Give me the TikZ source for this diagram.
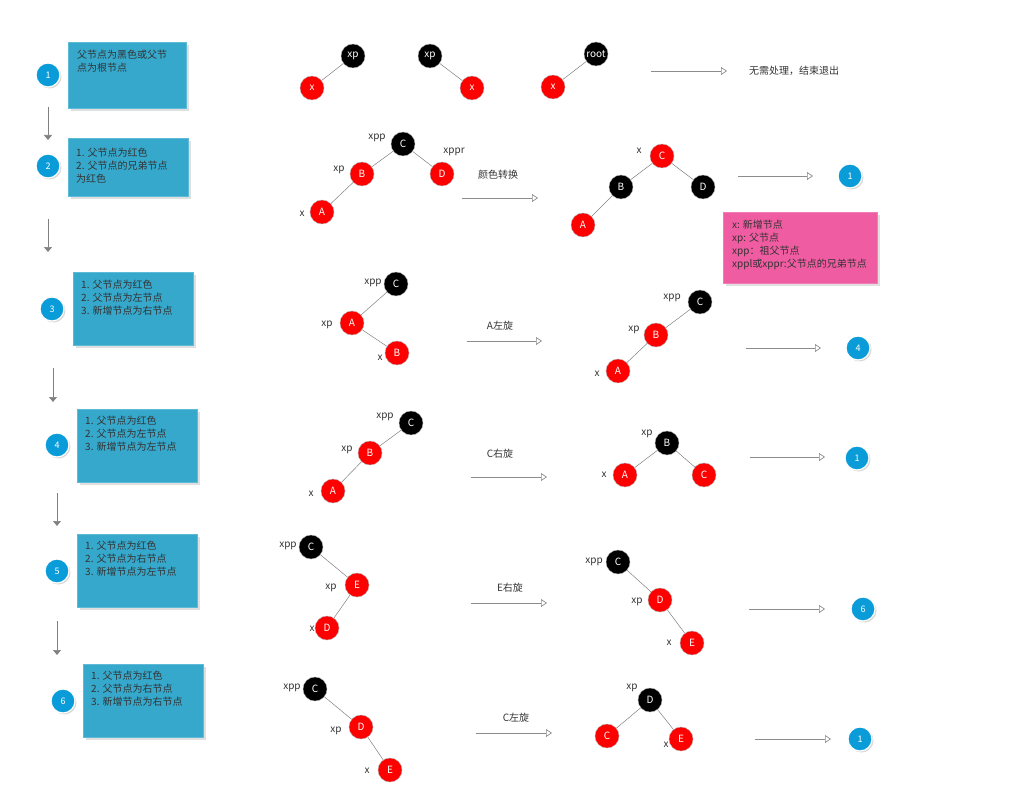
\documentclass[tikz,border=0pt]{standalone}
\usepackage{fontspec}
\setmainfont{Noto Sans CJK SC}
\usepackage{tikz}
\usetikzlibrary{shapes, arrows}
\usetikzlibrary{arrows.meta,calc,shadows}
\usetikzlibrary{positioning}

\begin{document}
\begin{tikzpicture}[x=1pt,y=-1pt,
	font=\fontsize{10}{13}\selectfont,
	blacknode/.style={circle,minimum size=24pt,inner sep=0pt,draw=gray!60,fill=black,text=white},
	rednode/.style={circle,minimum size=24pt,inner sep=0pt,draw=gray!60,fill=red,text=white},
	lbl/.style={inner sep=0pt,text=textgray},
	stepno/.style={circle,minimum size=24pt,inner sep=0pt,draw=white,line width=1.2pt,fill=stepblue,text=white,font=\fontsize{9}{11}\selectfont,drop shadow={shadow xshift=1.5pt,shadow yshift=-1.5pt,opacity=0.3}},
	condbox/.style={anchor=north west,draw=boxblue!80!white,fill=boxblue,inner sep=0pt,drop shadow={shadow xshift=3pt,shadow yshift=-3pt,opacity=0.25}},
	boxtxt/.style={inner sep=0pt,align=left,text=textgray},
	edge/.style={draw=gray,line width=0.5pt},
	flow/.style={-{Triangle[open,length=6pt,width=8pt]},draw=gray!90,line width=0.7pt},
	down/.style={-{Triangle[length=5pt,width=8pt]},draw=gray,line width=0.7pt}]

	\definecolor{boxblue}{rgb}{0.21,0.66,0.80}
	\definecolor{stepblue}{rgb}{0.04,0.61,0.85}
	\definecolor{notepink}{rgb}{0.94,0.36,0.63}
	\definecolor{textgray}{rgb}{0.20,0.20,0.20}

	\useasboundingbox (0,0) rectangle (1024,810);

	% left column
	\node(n1)[stepno] at (48,75) {1};
	\node(n2)[stepno] at (48,166) {2};
	\node(n3)[stepno] at (52,309) {3};
	\node(n4)[stepno] at (57,445) {4};
	\node(n5)[stepno] at (57,571) {5};
	\node(n6)[stepno] at (63,701) {6};

	\node(box1)[condbox,minimum width=118pt,minimum height=66pt] at (68,42) {};
	\node(box2)[condbox,minimum width=120pt,minimum height=58pt] at (68,138) {};
	\node(box3)[condbox,minimum width=120pt,minimum height=73pt] at (73,272) {};
	\node(box4)[condbox,minimum width=120pt,minimum height=73pt] at (77,409) {};
	\node(box5)[condbox,minimum width=120pt,minimum height=73pt] at (77,534) {};
	\node(box6)[condbox,minimum width=120pt,minimum height=73pt] at (83,664) {};

	\node(t1)[boxtxt,below right=8pt and 9pt of box1.north west] {父节点为黑色或父节\\点为根节点};
	\node(t2)[boxtxt,below right=10pt and 8pt of box2.north west] {1. 父节点为红色\\2. 父节点的兄弟节点\\为红色};
	\node(t3)[boxtxt,below right=8pt and 8pt of box3.north west] {1. 父节点为红色\\2. 父节点为左节点\\3. 新增节点为右节点};
	\node(t4)[boxtxt,below right=7pt and 8pt of box4.north west] {1. 父节点为红色\\2. 父节点为左节点\\3. 新增节点为左节点};
	\node(t5)[boxtxt,below right=7pt and 8pt of box5.north west] {1. 父节点为红色\\2. 父节点为右节点\\3. 新增节点为左节点};
	\node(t6)[boxtxt,below right=7pt and 8pt of box6.north west] {1. 父节点为红色\\2. 父节点为右节点\\3. 新增节点为右节点};

	\foreach \i/\x/\ya/\yb in {1/48/107/140, 2/48/219/252, 3/53/368/402, 4/57/493/526, 5/57/621/655}{
		\coordinate (ds\i) at (\x,\ya);
		\coordinate (de\i) at (\x,\yb);
		\draw[down] (ds\i) -- (de\i);
	}

	% case 1
	\node(xp11)[blacknode] at (353,56) {xp};
	\node(x11)[rednode] at (312,88) {x};
	\node(xp12)[blacknode] at (430,56) {xp};
	\node(x12)[rednode] at (472,88) {x};
	\node(root1)[blacknode] at (596,54) {root};
	\node(x13)[rednode] at (553,87) {x};
	\draw[edge] (xp11) -- (x11);
	\draw[edge] (xp12) -- (x12);
	\draw[edge] (root1) -- (x13);
	\coordinate (f1s) at (651,71);
	\coordinate (f1e) at (727,71);
	\draw[flow] (f1s) -- (f1e);
	\node(done)[lbl,anchor=west] at (749,71) {无需处理，结束退出};

	% case 2
	\node(c2)[blacknode] at (403,144) {C};
	\node(b2)[rednode] at (362,174) {B};
	\node(d2)[rednode] at (442,174) {D};
	\node(a2)[rednode] at (322,212) {A};
	\node(lc2)[lbl] at (377,138) {xpp};
	\node(lb2)[lbl] at (339,170) {xp};
	\node(ld2)[lbl] at (454,152) {xppr};
	\node(la2)[lbl] at (302,214) {x};
	\draw[edge] (c2) -- (b2);
	\draw[edge] (c2) -- (d2);
	\draw[edge] (b2) -- (a2);
	\node(op2)[lbl] at (498,175) {颜色转换};
	\coordinate (f2s) at (462,198);
	\coordinate (f2e) at (538,198);
	\draw[flow] (f2s) -- (f2e);

	\node(c22)[rednode] at (662,156) {C};
	\node(b22)[blacknode] at (621,187) {B};
	\node(d22)[blacknode] at (703,187) {D};
	\node(a22)[rednode] at (583,225) {A};
	\node(lc22)[lbl] at (639,151) {x};
	\draw[edge] (c22) -- (b22);
	\draw[edge] (c22) -- (d22);
	\draw[edge] (b22) -- (a22);
	\coordinate (g2s) at (738,176);
	\coordinate (g2e) at (813,176);
	\draw[flow] (g2s) -- (g2e);
	\node(r2)[stepno] at (850,176) {1};

	\node(note)[anchor=north west,fill=notepink,draw=notepink!80!white,minimum width=154pt,minimum height=71pt,inner sep=0pt,drop shadow={shadow xshift=3pt,shadow yshift=-3pt,opacity=0.25}] at (723,212) {};
	\node(notetxt)[boxtxt,below right=8pt and 9pt of note.north west] {x: 新增节点\\xp: 父节点\\xpp：祖父节点\\xppl或xppr:父节点的兄弟节点};

	% case 3
	\node(c3)[blacknode] at (396,284) {C};
	\node(a3)[rednode] at (352,323) {A};
	\node(b3)[rednode] at (397,353) {B};
	\node(lc3)[lbl] at (373,283) {xpp};
	\node(la3)[lbl] at (327,325) {xp};
	\node(lb3)[lbl] at (380,358) {x};
	\draw[edge] (c3) -- (a3);
	\draw[edge] (a3) -- (b3);
	\node(op3)[lbl] at (500,326) {A左旋};
	\coordinate (f3s) at (467,341);
	\coordinate (f3e) at (542,341);
	\draw[flow] (f3s) -- (f3e);

	\node(c32)[blacknode] at (700,302) {C};
	\node(b32)[rednode] at (656,335) {B};
	\node(a32)[rednode] at (618,371) {A};
	\node(lc32)[lbl] at (672,298) {xpp};
	\node(lb32)[lbl] at (634,330) {xp};
	\node(la32)[lbl] at (597,374) {x};
	\draw[edge] (c32) -- (b32);
	\draw[edge] (b32) -- (a32);
	\coordinate (g3s) at (746,348);
	\coordinate (g3e) at (821,348);
	\draw[flow] (g3s) -- (g3e);
	\node(r3)[stepno] at (858,348) {4};

	% case 4
	\node(c4)[blacknode] at (411,423) {C};
	\node(b4)[rednode] at (370,453) {B};
	\node(a4)[rednode] at (333,491) {A};
	\node(lc4)[lbl] at (385,417) {xpp};
	\node(lb4)[lbl] at (347,450) {xp};
	\node(la4)[lbl] at (311,494) {x};
	\draw[edge] (c4) -- (b4);
	\draw[edge] (b4) -- (a4);
	\node(op4)[lbl] at (500,454) {C右旋};
	\coordinate (f4s) at (471,477);
	\coordinate (f4e) at (547,477);
	\draw[flow] (f4s) -- (f4e);

	\node(b42)[blacknode] at (667,443) {B};
	\node(a42)[rednode] at (625,475) {A};
	\node(c42)[rednode] at (704,475) {C};
	\node(lb42)[lbl] at (647,434) {xp};
	\node(la42)[lbl] at (604,475) {x};
	\draw[edge] (b42) -- (a42);
	\draw[edge] (b42) -- (c42);
	\coordinate (g4s) at (750,457);
	\coordinate (g4e) at (825,457);
	\draw[flow] (g4s) -- (g4e);
	\node(r4)[stepno] at (857,458) {1};

	% case 5
	\node(c5)[blacknode] at (311,547) {C};
	\node(e5)[rednode] at (357,585) {E};
	\node(d5)[rednode] at (327,628) {D};
	\node(lc5)[lbl] at (288,546) {xpp};
	\node(le5)[lbl] at (331,588) {xp};
	\node(ld5)[lbl] at (312,629) {x};
	\draw[edge] (c5) -- (e5);
	\draw[edge] (e5) -- (d5);
	\node(op5)[lbl] at (510,588) {E右旋};
	\coordinate (f5s) at (471,603);
	\coordinate (f5e) at (547,603);
	\draw[flow] (f5s) -- (f5e);

	\node(c52)[blacknode] at (618,562) {C};
	\node(d52)[rednode] at (660,600) {D};
	\node(e52)[rednode] at (692,643) {E};
	\node(lc52)[lbl] at (594,562) {xpp};
	\node(ld52)[lbl] at (637,602) {xp};
	\node(le52)[lbl] at (669,643) {x};
	\draw[edge] (c52) -- (d52);
	\draw[edge] (d52) -- (e52);
	\coordinate (g5s) at (749,609);
	\coordinate (g5e) at (825,609);
	\draw[flow] (g5s) -- (g5e);
	\node(r5)[stepno] at (863,609) {6};

	% case 6
	\node(c6)[blacknode] at (315,689) {C};
	\node(d6)[rednode] at (361,727) {D};
	\node(e6)[rednode] at (390,770) {E};
	\node(lc6)[lbl] at (292,688) {xpp};
	\node(ld6)[lbl] at (336,731) {xp};
	\node(le6)[lbl] at (367,771) {x};
	\draw[edge] (c6) -- (d6);
	\draw[edge] (d6) -- (e6);
	\node(op6)[lbl] at (516,718) {C左旋};
	\coordinate (f6s) at (476,733);
	\coordinate (f6e) at (552,733);
	\draw[flow] (f6s) -- (f6e);

	\node(d62)[blacknode] at (650,700) {D};
	\node(c62)[rednode] at (607,736) {C};
	\node(e62)[rednode] at (681,739) {E};
	\node(ld62)[lbl] at (632,688) {xp};
	\node(le62)[lbl] at (666,745) {x};
	\draw[edge] (d62) -- (c62);
	\draw[edge] (d62) -- (e62);
	\coordinate (g6s) at (755,739);
	\coordinate (g6e) at (831,739);
	\draw[flow] (g6s) -- (g6e);
	\node(r6)[stepno] at (860,739) {1};

\end{tikzpicture}
\end{document}
